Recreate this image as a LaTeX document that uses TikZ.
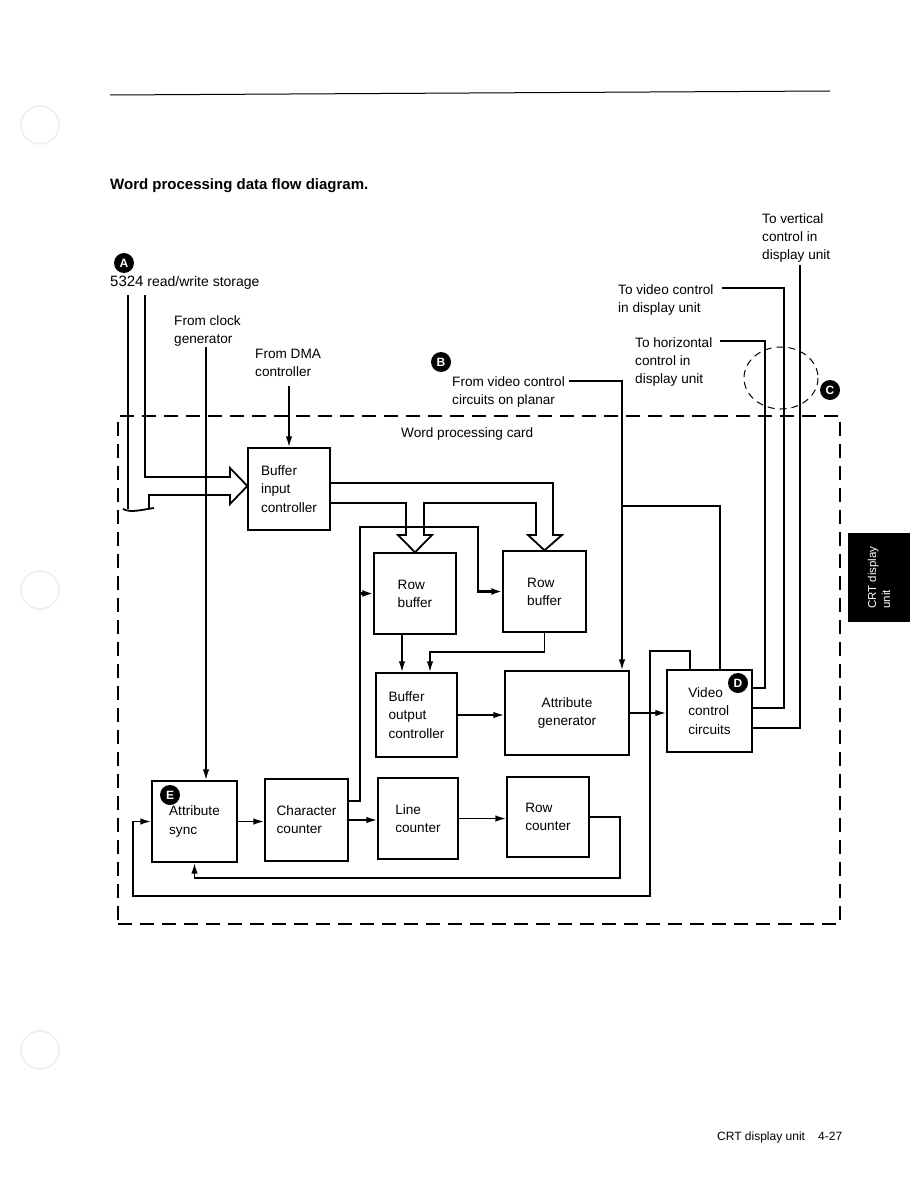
\documentclass[tikz,border=0pt]{standalone}
\usepackage{fontspec}
\setmainfont{Liberation Sans}
\usetikzlibrary{arrows.meta,calc}
\begin{document}
\begin{tikzpicture}[x=1pt,y=-1pt,
  every node/.style={inner sep=0pt, font=\fontsize{13.6}{18.2}\selectfont},
  blk/.style={draw, line width=1.3pt, align=left},
  wire/.style={line width=1.8pt},
  arr/.style={wire, -{Latex[length=11pt,width=6.5pt]}},
  thickarr/.style={line width=2.6pt, -{Latex[length=11pt,width=7pt]}},
  lbl/.style={anchor=north west, align=left},
  badge/.style={circle, fill=black, text=white, minimum size=20pt, font=\fontsize{12}{12}\selectfont\bfseries},
  dashbox/.style={line width=1.3pt, dash pattern=on 14pt off 8pt},
  hole/.style={black!7, line width=1.5pt}
]
\useasboundingbox (0,0) rectangle (918,1188);

% binder holes
\draw[hole] (40,125) circle (19);
\draw[hole] (40,590) circle (19);
\draw[hole] (40,1050) circle (19);

% header rule and title
\draw[line width=1pt] (110,95) -- (830,91);
\node[anchor=base west, font=\fontsize{15}{18}\selectfont\bfseries] (title) at (110,189) {Word processing data flow diagram.};

% word processing card
\node[draw, dashbox, minimum width=722pt, minimum height=508pt] (card) at (479,670) {};
\node[lbl] (cardlbl) at (401,427) {Word processing card};

% blocks
\node[blk, minimum width=82pt, minimum height=82pt] (bic) at (289,489) {Buffer\\input\\controller};
\node[blk, minimum width=82pt, minimum height=81pt] (rb1) at (415,593.5) {Row\\buffer};
\node[blk, minimum width=83pt, minimum height=81pt] (rb2) at (544.5,591.5) {Row\\buffer};
\node[blk, minimum width=81pt, minimum height=84pt] (boc) at (416.5,715) {Buffer\\output\\controller};
\node[blk, minimum width=124pt, minimum height=84pt, align=center] (ag) at (567,713) {Attribute\\generator};
\node[blk, minimum width=85pt, minimum height=82pt] (vcc) at (709.5,711) {Video\\control\\circuits};
\node[blk, minimum width=85pt, minimum height=81pt] (as) at (194.5,821.5) {\raisebox{-4pt}{Attribute}\\\raisebox{-4pt}{sync}};
\node[blk, minimum width=83pt, minimum height=82pt] (cc) at (306.5,820) {Character\\counter};
\node[blk, minimum width=80pt, minimum height=81pt] (lc) at (418,818.5) {Line\\counter};
\node[blk, minimum width=82pt, minimum height=80pt] (rc) at (548,817) {Row\\counter};

% badges
\node[badge] (bA) at (124,263) {A};
\node[badge] (bB) at (441,362) {B};
\node[badge] (bC) at (830,390) {C};
\node[badge] (bD) at (738,683) {D};
\node[badge] (bE) at (170,795) {E};

% labels
\node[anchor=base west] (l5324) at (110,286) {\fontsize{15}{18}\selectfont 5324\fontsize{14}{18}\selectfont{} read/write storage};
\node[lbl] (lclk) at (174,315) {From clock\\generator};
\node[lbl] (ldma) at (255,349) {From DMA\\controller};
\node[lbl] (lvid) at (452,376) {From video control\\circuits on planar};
\node[lbl] (ltv) at (618,284) {To video control\\in display unit};
\node[lbl] (lth) at (635,337) {To horizontal\\control in\\display unit};
\node[lbl] (ltvert) at (762,213) {To vertical\\control in\\display unit};

% dashed circle C
\draw[line width=1pt, dash pattern=on 7pt off 5pt] (781,378) ellipse [x radius=37, y radius=31];

% 5324 bus into buffer input controller
\coordinate (aL) at (128,295);
\coordinate (aR) at (145,295);
\draw[wire] (aL) -- (128,509);
\draw[wire] (aR) -- (145,477) -- (230,477) -- (230,468) -- ([yshift=3pt]bic.west) -- (230,504) -- (230,495) -- (149,495) -- (149,509);
\draw[wire] (123,509) .. controls (131,513) and (140,510) .. (154,508);

% clock and DMA
\coordinate (clk) at (206,347);
\draw[arr] (clk) -- (clk |- as.north);
\coordinate (dma) at (289,386);
\draw[arr] (dma) -- (bic.north);

% bus from buffer input controller to the two row buffers
\coordinate (o1) at ([yshift=6pt]bic.east);
\coordinate (o2) at ([yshift=-14pt]bic.east);
\draw[wire] (o1) -- (553,483) -- (553,535) -- (562,535) -- (rb2.north) -- (528,535) -- (536,535)
  -- (536,503) -- (424,503) -- (424,535) -- (432,535) -- (rb1.north) -- (398,535) -- (406,535)
  -- (406,503) -- (o2);

% character counter feed to row buffers
\coordinate (cco) at ([yshift=19pt]cc.east);
\coordinate (vx) at (360,527);
\draw[thickarr] (cco) -| (vx) -| (478,591.5) -- (rb2.west);
\draw[thickarr] (vx |- rb1.west) -- (rb1.west);

% row buffers to buffer output controller
\coordinate (r1o) at ([xshift=-13pt]rb1.south);
\draw[arr] (r1o) -- (r1o |- boc.north);
\coordinate (b2i) at ([xshift=13.5pt]boc.north);
\coordinate (j2) at (430,652);
\draw[arr] (rb2.south) |- (j2) -- (b2i);

% main chain
\draw[arr] (boc.east) -- (boc.east -| ag.west);
\draw[arr] (ag.east) -- (ag.east -| vcc.west);

% from video control circuits on planar
\coordinate (bsrc) at (569,381);
\coordinate (bj) at (622,506);
\draw[arr] (bsrc) -| (bj) -- (bj |- ag.north);
\draw[wire] (bj) -| ([xshift=10.5pt]vcc.north);

% outer loop: video control -> attribute sync
\coordinate (vt) at ([xshift=-19.5pt]vcc.north);
\draw[arr] (vt) |- (650,651) |- (133,896) |- (as.west);

% inner loop: row counter -> attribute sync
\draw[arr] (rc.east) -| (620,878) -| (as.south);

% counters chain
\draw[arr] (as.east) -- (as.east -| cc.west);
\draw[arr] (cc.east) -- (cc.east -| lc.west);
\draw[arr] (lc.east) -- (lc.east -| rc.west);

% outputs to display unit
\coordinate (hz) at (720,341);
\coordinate (vd) at (722,288);
\coordinate (vv) at (800,265);
\draw[wire] ([yshift=23pt]vcc.east) -| (765,341) -- (hz);
\draw[wire] ([yshift=3pt]vcc.east) -| (784,288) -- (vd);
\draw[wire] ([yshift=-17pt]vcc.east) -| (vv);

% side tab
\node[fill=black, minimum width=62pt, minimum height=89pt] (tab) at (879,577.5) {};
\node[rotate=90, text=white, align=left, font=\fontsize{11.5}{14}\selectfont] (tabtxt) at (tab.center) {CRT display\\unit};

% footer
\node[anchor=base west, font=\fontsize{12}{14}\selectfont] (foot) at (717,1140) {CRT display unit};
\node[anchor=base west, font=\fontsize{12}{14}\selectfont] (pg) at (818,1140) {4-27};
\end{tikzpicture}
\end{document}
